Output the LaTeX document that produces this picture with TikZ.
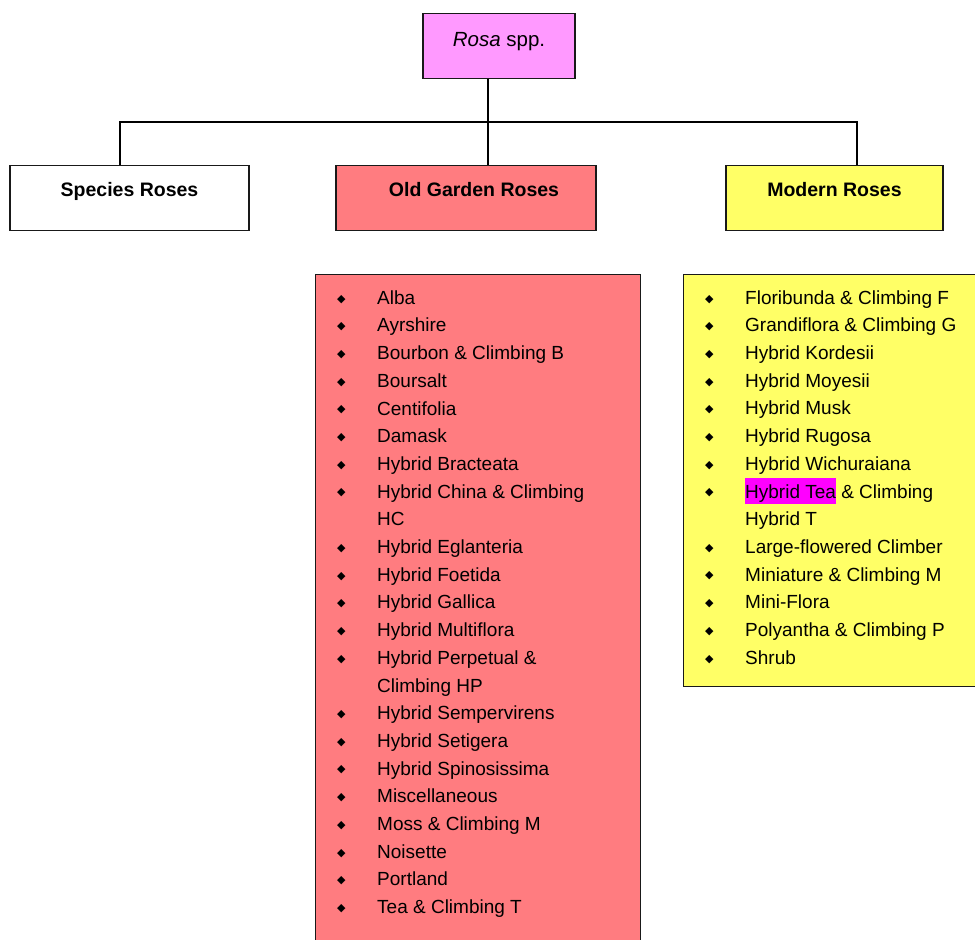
\documentclass[tikz,border=0pt]{standalone}
\usepackage{fontspec}
\setmainfont{Liberation Sans}
\newfontfamily\bulfont{DejaVu Sans}
\usetikzlibrary{positioning}

\definecolor{rosapink}{HTML}{FF99FF}
\definecolor{oldred}{HTML}{FF7C80}
\definecolor{modyellow}{HTML}{FFFF66}
\definecolor{teahi}{HTML}{FF00FF}

\newcommand{\bul}{\makebox[40pt][l]{\raisebox{2.2pt}{\bulfont\fontsize{11}{11}\selectfont ◆}}}
\newcommand{\ind}{\hspace*{40pt}}
\newcommand{\hitea}[1]{{\fboxsep=0pt\colorbox{teahi}{\rule[-6pt]{0pt}{26pt}#1}}}

\begin{document}
\begin{tikzpicture}[
  x=1pt, y=-1pt,
  box/.style    ={draw=black!90, line width=1.3pt, inner sep=0pt, anchor=north},
  head/.style   ={box, font=\fontsize{19.5}{23}\selectfont\bfseries, text height=31pt, text depth=34pt},
  listbox/.style={draw=black!90, line width=1.3pt, inner sep=0pt, anchor=north west},
  listtxt/.style={align=left, inner sep=0pt, font=\fontsize{19}{27.7}\selectfont},
  conn/.style   ={line width=1.4pt},
]
\useasboundingbox (0,0) rectangle (975,940);
\clip (0,0) rectangle (975,940);

% --- top: genus ---
\node[box, fill=rosapink, minimum width=152pt, text height=32.5pt, text depth=32.5pt,
      font=\fontsize{20.5}{24}\selectfont] (rosa) at (499,13) {\textit{Rosa} spp.};

% --- row 2: the three groups ---
\node[head, minimum width=239pt] (species) at (129.5,165) {Species Roses};
\node[head, fill=oldred, minimum width=260pt] (oldg) at (466,165) {\hspace*{16pt}Old Garden Roses};
\node[head, fill=modyellow, minimum width=217pt] (modern) at (834.5,165) {Modern Roses};

% bus line between the rows
\coordinate (busL) at (120,122);
\coordinate (busM) at (488,122);
\coordinate (busR) at (857,122);
\draw[conn] (rosa.south -| busM) -- (oldg.north -| busM);
\draw[conn] (species.north -| busL) -- (busL) -- (busR) -- (modern.north -| busR);

% --- row 3: class lists ---
\node[listbox, fill=oldred, minimum width=325pt, minimum height=700pt] (oldbox) at (315,274) {};
\node[listbox, fill=modyellow, minimum width=310pt, minimum height=412pt] (modbox) at (683,274) {};

\node[listtxt, below right=10.6pt and 22pt of oldbox.north west] (oldtxt) {%
  \strut\bul Alba\\
  \bul Ayrshire\\
  \bul Bourbon \& Climbing B\\
  \bul Boursalt\\
  \bul Centifolia\\
  \bul Damask\\
  \bul Hybrid Bracteata\\
  \bul Hybrid China \& Climbing\\
  \ind HC\\
  \bul Hybrid Eglanteria\\
  \bul Hybrid Foetida\\
  \bul Hybrid Gallica\\
  \bul Hybrid Multiflora\\
  \bul Hybrid Perpetual \&\\
  \ind Climbing HP\\
  \bul Hybrid Sempervirens\\
  \bul Hybrid Setigera\\
  \bul Hybrid Spinosissima\\
  \bul Miscellaneous\\
  \bul Moss \& Climbing M\\
  \bul Noisette\\
  \bul Portland\\
  \bul Tea \& Climbing T};

\node[listtxt, below right=10.6pt and 22pt of modbox.north west] (modtxt) {%
  \strut\bul Floribunda \& Climbing F\\
  \bul Grandiflora \& Climbing G\\
  \bul Hybrid Kordesii\\
  \bul Hybrid Moyesii\\
  \bul Hybrid Musk\\
  \bul Hybrid Rugosa\\
  \bul Hybrid Wichuraiana\\
  \bul \hitea{Hybrid Tea} \& Climbing\\
  \ind Hybrid T\\
  \bul Large-flowered Climber\\
  \bul Miniature \& Climbing M\\
  \bul Mini-Flora\\
  \bul Polyantha \& Climbing P\\
  \bul Shrub};

\end{tikzpicture}
\end{document}
